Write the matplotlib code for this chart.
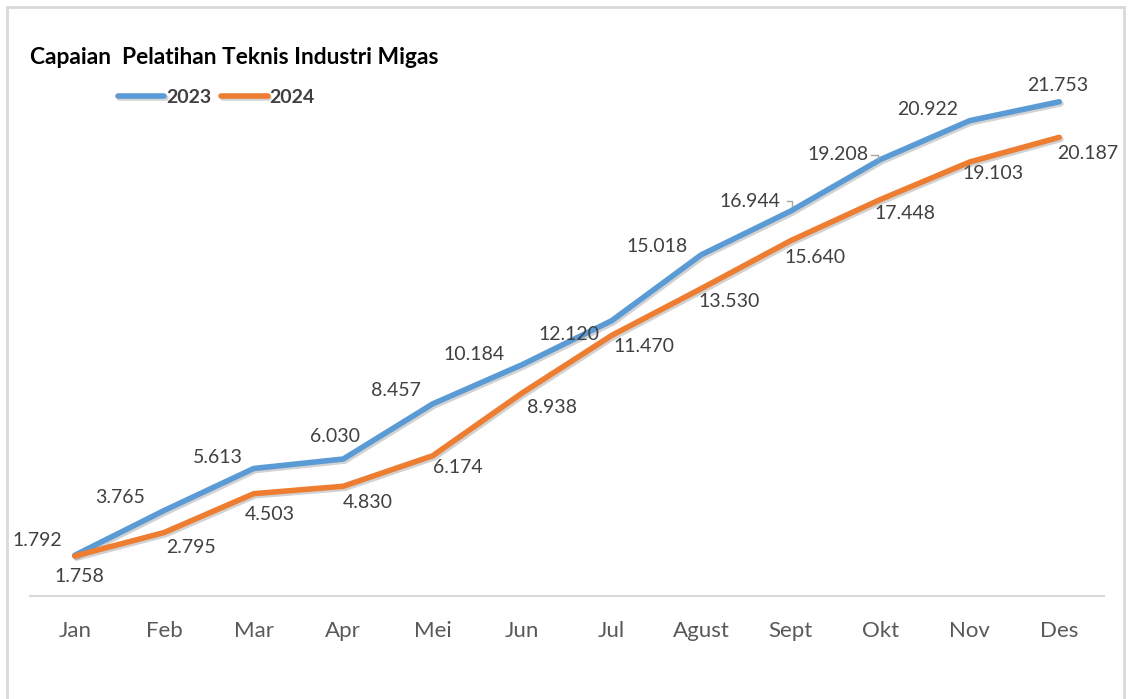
import matplotlib
matplotlib.use("Agg")
import matplotlib.pyplot as plt
import matplotlib.patheffects as pe
from matplotlib.patches import Rectangle
from matplotlib.lines import Line2D

# data
bulan = ["Jan", "Feb", "Mar", "Apr", "Mei", "Jun", "Jul", "Agust", "Sept", "Okt", "Nov", "Des"]
nilai_2023 = [1792, 3765, 5613, 6030, 8457, 10184, 12120, 15018, 16944, 19208, 20922, 21753]
nilai_2024 = [1758, 2795, 4503, 4830, 6174, 8938, 11470, 13530, 15640, 17448, 19103, 20187]

# label offsets (pixels) relative to each point
off_2023 = [(-37, 15), (-44, 13), (-36, 11), (-8, 22), (-37, 13), (-48, 10),
            (-43, -14), (-44, 8), (-41, 10), (-42, 5), (-42, 11), (-2, 16)]
off_2024 = [(5, -20), (27, -15), (16, -21), (25, -16), (25, -12), (30, -15),
            (32, -11), (28, -13), (24, -17), (25, -14), (23, -12), (28, -16)]
# leader lines (pixels relative to point) for Sept, Okt
leader_2023 = {8: [(-4, 10), (1, 10), (1, 5)], 9: [(-9, 5), (-2, 5), (-2, 1)]}

biru = "#5B9BD5"
oranye = "#ED7D31"
teks = "#404040"

plt.rcParams["font.family"] = ["Lato", "DejaVu Sans"]

fig = plt.figure(figsize=(11.29, 6.99), dpi=100)
fig.patch.set_facecolor("white")
fig.patches.append(Rectangle((7 / 1129, -0.1), 1117 / 1129, 1.1 - 7 / 699,
                             transform=fig.transFigure, fill=False,
                             edgecolor="#D9D9D9", linewidth=2))

ax = fig.add_axes([30 / 1129, 1 - 596 / 699, 1074 / 1129, 568 / 699])
x = list(range(len(bulan)))

shadow = [pe.SimpleLineShadow(offset=(1.2, -1.5), shadow_color="gray", alpha=0.35), pe.Normal()]
ax.plot(x, nilai_2023, color=biru, lw=4, solid_joinstyle="round",
        solid_capstyle="round", label="2023", path_effects=shadow, zorder=3)
ax.plot(x, nilai_2024, color=oranye, lw=4, solid_joinstyle="round",
        solid_capstyle="round", label="2024", path_effects=shadow, zorder=4)

ax.set_xlim(-0.5, 11.5)
ax.set_ylim(0, 25000)

for i, v in enumerate(nilai_2023):
    lbl = f"{v:,}".replace(",", ".")
    dx, dy = off_2023[i]
    ax.annotate(lbl, (i, v), xytext=(dx, dy), textcoords="offset pixels",
                ha="center", va="center", fontsize=14, color=teks)

for i, v in enumerate(nilai_2024):
    lbl = f"{v:,}".replace(",", ".")
    dx, dy = off_2024[i]
    ax.annotate(lbl, (i, v), xytext=(dx, dy), textcoords="offset pixels",
                ha="center", va="center", fontsize=14, color=teks)

for i, pts in leader_2023.items():
    px, py = ax.transData.transform((i, nilai_2023[i]))
    fig.lines.append(Line2D([px + a for a, b in pts], [py + b for a, b in pts],
                            transform=None, color="#A6A6A6", lw=1))

ax.set_xticks(x)
ax.set_xticklabels(bulan, fontsize=16, color="#595959")
ax.tick_params(axis="x", length=0, pad=18)
ax.set_yticks([])
for s in ["top", "right", "left"]:
    ax.spines[s].set_visible(False)
ax.spines["bottom"].set_color("#D9D9D9")
ax.spines["bottom"].set_linewidth(1.5)

fig.text(30 / 1129, 1 - 57 / 699, "Capaian  Pelatihan Teknis Industri Migas",
         fontsize=16.4, fontweight="bold", color="black", va="center", ha="left")

leg = ax.legend(loc="upper left", bbox_to_anchor=(104 / 1129, 1 - 75 / 699),
                bbox_transform=fig.transFigure, ncol=2, frameon=False,
                handlelength=2.4, handletextpad=0.1, columnspacing=0.5,
                borderpad=0.2, prop={"size": 14, "weight": "bold"})
for t in leg.get_texts():
    t.set_color(teks)

fig.savefig("out.png", dpi=100, facecolor="white")
